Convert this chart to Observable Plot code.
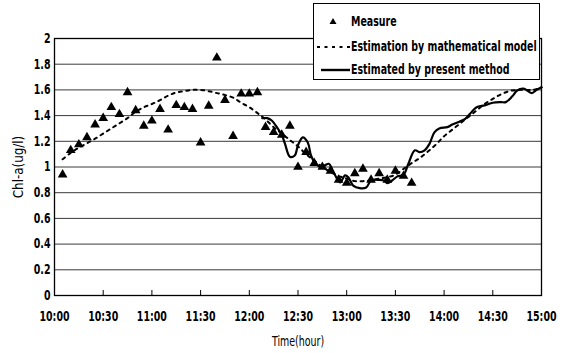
<!DOCTYPE html>
<html><head><meta charset="utf-8">
<script src="https://cdn.jsdelivr.net/npm/d3@7"></script>
<script src="https://cdn.jsdelivr.net/npm/@observablehq/plot@0.6"></script>
<style>
body{margin:0;background:#fff;}
#wrap{position:relative;width:566px;height:353px;font-family:"DejaVu Sans",sans-serif;}
#legend{position:absolute;left:313px;top:3px;width:225px;height:75px;border:1px solid #000;background:#fff;font-size:13.5px;font-weight:bold;color:#000;white-space:nowrap;}
.row{position:absolute;left:0;height:20px;display:flex;align-items:center;white-space:nowrap;}
.row svg{display:block;flex:none;}
.row span{display:inline-block;transform-origin:0 50%;}
</style></head><body>
<div id="wrap"><div id="legend"></div></div>
<script>
// Measured values (time, Chl-a)
const measureTime = ["10:05","10:10","10:15","10:20","10:25","10:30","10:35","10:40","10:45","10:50","10:55","11:00","11:05","11:10","11:15","11:20","11:25","11:30","11:35","11:40","11:45","11:50","11:55","12:00","12:05","12:10","12:15","12:20","12:25","12:30","12:35","12:40","12:45","12:50","12:55","13:00","13:05","13:10","13:15","13:20","13:25","13:30","13:35","13:40"];
const measureValue = [0.94,1.13,1.175,1.23,1.33,1.38,1.465,1.41,1.58,1.44,1.32,1.36,1.45,1.29,1.48,1.465,1.45,1.19,1.475,1.85,1.52,1.24,1.57,1.57,1.58,1.31,1.27,1.25,1.32,1.0,1.115,1.03,1.0,0.97,0.90,0.875,0.95,0.985,0.90,0.95,0.90,0.97,0.93,0.875];
// Estimation by mathematical model
const modelTime = ["10:05","10:10","10:15","10:20","10:25","10:30","10:35","10:40","10:45","10:50","10:55","11:00","11:05","11:10","11:15","11:20","11:25","11:30","11:35","11:40","11:45","11:50","11:55","12:00","12:05","12:10","12:15","12:20","12:25","12:30","12:35","12:40","12:45","12:50","12:55","13:00","13:05","13:10","13:15","13:20","13:25","13:30","13:35","13:40","13:45","13:50","13:55","14:00","14:05","14:10","14:15","14:20","14:25","14:30","14:35","14:40","14:45","14:50","14:55","15:00"];
const modelValue = [1.06,1.11,1.15,1.185,1.22,1.26,1.30,1.34,1.38,1.43,1.465,1.49,1.52,1.555,1.58,1.59,1.60,1.60,1.59,1.575,1.56,1.54,1.50,1.465,1.42,1.37,1.31,1.26,1.21,1.16,1.10,1.05,1.0,0.96,0.93,0.91,0.89,0.89,0.895,0.91,0.92,0.94,0.985,1.03,1.07,1.12,1.175,1.24,1.29,1.34,1.39,1.44,1.49,1.53,1.565,1.59,1.60,1.60,1.60,1.62];
// Estimated by present method
const presentTime = ["12:08","12:11","12:14","12:17","12:20","12:22","12:25","12:28","12:30","12:33","12:36","12:38","12:40","12:43","12:46","12:49","12:51","12:54","12:56","12:59","13:01","13:04","13:08","13:12","13:15","13:20","13:23","13:25","13:28","13:31","13:35","13:38","13:42","13:45","13:48","13:51","13:54","13:57","14:02","14:05","14:09","14:13","14:16","14:20","14:25","14:30","14:35","14:38","14:42","14:45","14:49","14:54","14:57","15:00"];
const presentValue = [1.38,1.38,1.36,1.31,1.25,1.18,1.08,1.09,1.17,1.23,1.19,1.09,1.04,1.005,1.01,1.025,0.985,0.91,0.88,0.935,0.92,0.855,0.835,0.84,0.895,0.90,0.895,0.875,0.895,0.925,0.94,1.025,1.13,1.115,1.13,1.18,1.27,1.30,1.31,1.33,1.35,1.375,1.415,1.465,1.48,1.50,1.505,1.505,1.55,1.595,1.61,1.575,1.60,1.62];
// Axis ticks
const xTickLabels = ["10:00","10:30","11:00","11:30","12:00","12:30","13:00","13:30","14:00","14:30","15:00"];
const yTickValues = [0,0.2,0.4,0.6,0.8,1,1.2,1.4,1.6,1.8,2];
const yTickLabels = ["0","0.2","0.4","0.6","0.8","1","1.2","1.4","1.6","1.8","2"];

const toMin = s => { const [h, m] = s.split(":").map(Number); return (h - 10) * 60 + m; };
const measure = measureTime.map((t, i) => ({x: toMin(t), y: measureValue[i]}));
const model = modelTime.map((t, i) => ({x: toMin(t), y: modelValue[i]}));
const present = presentTime.map((t, i) => ({x: toMin(t), y: presentValue[i]}));
const xTicks = xTickLabels.map(toMin);
const squeeze = 0.7; // narrow-font look

const chart = Plot.plot({
  width: 566, height: 353,
  marginTop: 38, marginBottom: 58, marginLeft: 54, marginRight: 25,
  style: {fontFamily: '"DejaVu Sans",sans-serif', fontSize: "13.5px", fontWeight: "bold", background: "white", color: "black", overflow: "visible"},
  x: {type: "linear", domain: [0, 300], ticks: xTicks, tickFormat: d => xTickLabels[xTicks.indexOf(d)], tickSize: -5, tickPadding: 21,
      label: "Time(hour)", labelArrow: false, labelAnchor: "center", labelOffset: 50},
  y: {domain: [0, 2], ticks: yTickValues, tickFormat: d => yTickLabels[yTickValues.indexOf(d)], tickSize: 0, tickPadding: 4,
      label: "Chl-a(ug/l)", labelArrow: false, labelAnchor: "center", labelOffset: 41},
  marks: [
    Plot.ruleY(yTickValues, {stroke: "#3a3a3a", strokeWidth: 1}),
    Plot.frame({stroke: "black", strokeWidth: 1.3}),
    Plot.line(model, {x: "x", y: "y", curve: "catmull-rom", stroke: "black", strokeWidth: 2, strokeDasharray: "3,4.5"}),
    Plot.line(present, {x: "x", y: "y", curve: "catmull-rom", stroke: "black", strokeWidth: 2.2}),
    Plot.dot(measure, {x: "x", y: "y", symbol: "triangle", fill: "black", r: 3.6})
  ]
});
document.getElementById("wrap").prepend(chart);
chart.querySelectorAll("text").forEach(t => {
  const s = t.textContent.trim();
  let k = squeeze;
  if (s.startsWith("Time(hour)")) { t.style.fontWeight = "normal"; }
  if (s.startsWith("Chl-a")) { t.style.fontWeight = "normal"; t.style.fontSize = "14px"; k = 0.85; }
  const len = t.getComputedTextLength();
  if (len > 0) { t.setAttribute("textLength", len * k); t.setAttribute("lengthAdjust", "spacingAndGlyphs"); }
});

const legendItems = [
  {label: "Measure", kind: "triangle"},
  {label: "Estimation by mathematical model", kind: "dotted"},
  {label: "Estimated by present method", kind: "solid"}
];
const rowTops = [7, 32, 55];
const leg = document.getElementById("legend");
legendItems.forEach((it, i) => {
  const row = document.createElement("div");
  row.className = "row";
  row.style.top = rowTops[i] + "px";
  let sym;
  if (it.kind === "triangle") sym = '<svg width="36" height="20"><path d="M19,7 L22.5,13 L15.5,13 Z" fill="black"/></svg>';
  else if (it.kind === "dotted") sym = '<svg width="36" height="20"><line x1="3" y1="11" x2="36" y2="11" stroke="black" stroke-width="2" stroke-dasharray="3,4.5"/></svg>';
  else sym = '<svg width="36" height="20"><line x1="7" y1="11" x2="36" y2="11" stroke="black" stroke-width="2.4"/></svg>';
  row.innerHTML = sym + '<span style="margin-left:1px;transform:scaleX(' + squeeze + ')">' + it.label + '</span>';
  leg.appendChild(row);
});
</script>
</body></html>
